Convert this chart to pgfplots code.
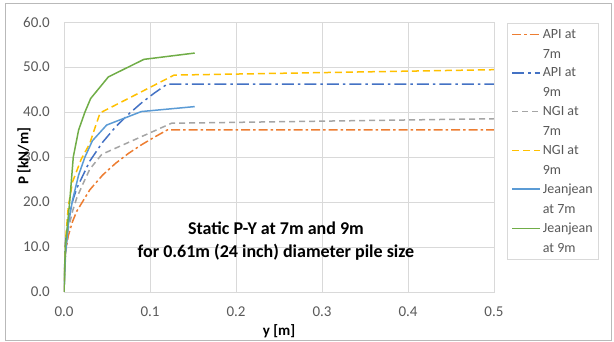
\documentclass[border=0pt]{standalone}
\usepackage{pgfplots}
\pgfplotsset{compat=1.18}
\usepackage{fontspec}
\setmainfont{Carlito}
\definecolor{cOrange}{HTML}{ED7D31}
\definecolor{cBlue}{HTML}{4472C4}
\definecolor{cGray}{HTML}{A5A5A5}
\definecolor{cGold}{HTML}{FFC000}
\definecolor{cLBlue}{HTML}{5B9BD5}
\definecolor{cGreen}{HTML}{70AD47}
\definecolor{gridc}{HTML}{D9D9D9}
\definecolor{txt}{HTML}{595959}
\begin{document}
\begin{tikzpicture}[x=1pt,y=1pt]
\useasboundingbox (0,0) rectangle (614,342);
\draw[gray!55, line width=0.8pt] (5,2) rectangle (611,339);
\begin{axis}[
  at={(64pt,50pt)}, anchor=south west,
  scale only axis, width=430pt, height=270pt,
  xmin=0, xmax=0.5, ymin=0, ymax=60,
  xtick={0,0.1,0.2,0.3,0.4,0.5}, ytick={0,10,20,30,40,50,60},
  grid=major, major grid style={gridc, line width=0.8pt},
  axis line style={gridc, line width=0.8pt},
  tick style={draw=none},
  ticklabel style={font=\fontsize{15}{17}\selectfont, text=txt, inner sep=0pt},
  yticklabel style={anchor=east, xshift=-14pt},
  xticklabel style={anchor=north, yshift=-15pt},
  /pgf/number format/assume math mode=true,
  /pgf/number format/fixed, /pgf/number format/fixed zerofill, /pgf/number format/precision=1,
  xlabel={y [m]}, ylabel={P [kN/m]},
  label style={font=\bfseries\fontsize{15}{17}\selectfont},
  xlabel style={at={(axis description cs:0.5,-0.1444)}, anchor=center},
  ylabel style={at={(axis description cs:-0.093,0.503)}, anchor=center},
  legend style={at={(axis description cs:1.0302,0.996)}, anchor=north west,
    draw=gridc, line width=0.8pt, font=\fontsize{14}{20}\selectfont, text=txt,
    cells={align=left, anchor=west}, row sep=4pt, inner sep=4pt},
  legend image code/.code={\draw[#1] (0pt,10pt) -- (28pt,10pt);},
  every axis plot/.append style={line width=1.5pt},
]
\addplot[cOrange, dash pattern=on 9pt off 3pt on 2.5pt off 3pt] coordinates {
(0,0) (0.0015,8.35) (0.005,12.5) (0.01,15.7) (0.015,18) (0.03,22.7) (0.045,26.0)
(0.06,28.6) (0.075,30.8) (0.09,32.7) (0.105,34.4) (0.12,36) (0.5,36)};
\addlegendentry{API at\\7m}
\addplot[cBlue, dash pattern=on 12pt off 4pt on 2.5pt off 4pt] coordinates {
(0,0) (0.0015,10.7) (0.005,16.0) (0.01,20.2) (0.015,23.1) (0.03,29.1) (0.045,33.3)
(0.06,36.7) (0.075,39.5) (0.09,42.0) (0.105,44.2) (0.12,46.2) (0.5,46.2)};
\addlegendentry{API at\\9m}
\addplot[cGray, dash pattern=on 6pt off 4pt] coordinates {
(0,0) (0.002,9) (0.005,14) (0.01,18) (0.015,21) (0.022,24) (0.03,27.3) (0.044,30.6)
(0.125,37.5) (0.5,38.5)};
\addlegendentry{NGI at\\7m}
\addplot[cGold, dash pattern=on 7pt off 4pt] coordinates {
(0,0) (0.002,12) (0.005,19) (0.01,24.5) (0.02,29.5) (0.03,33) (0.036,36.5) (0.042,39.8)
(0.128,48.2) (0.5,49.4)};
\addlegendentry{NGI at\\9m}
\addplot[cLBlue] coordinates {
(0,0) (0.0015,8) (0.005,15) (0.01,20.5) (0.017,26) (0.0244,30) (0.033,33.6)
(0.0496,37.1) (0.09,40.1) (0.152,41.2)};
\addlegendentry{Jeanjean\\at 7m}
\addplot[cGreen] coordinates {
(0,0) (0.0016,10) (0.0066,20) (0.0108,30) (0.017,36) (0.0244,40) (0.031,43)
(0.0516,47.8) (0.093,51.7) (0.152,53.1)};
\addlegendentry{Jeanjean\\at 9m}
\node[align=center, font=\bfseries\fontsize{18}{23}\selectfont] at (axis cs:0.2465,11.4)
  {Static P-Y at 7m and 9m\\for 0.61m (24 inch) diameter pile size};
\end{axis}
\end{tikzpicture}
\end{document}
